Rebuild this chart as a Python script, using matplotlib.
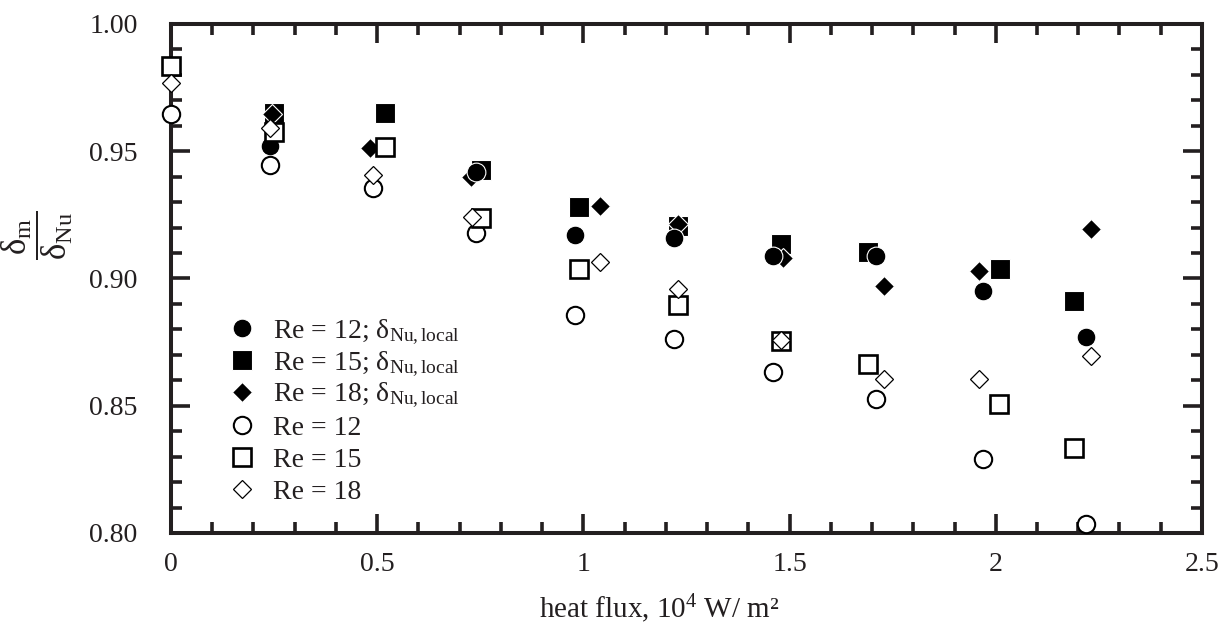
import matplotlib
matplotlib.use("Agg")
import matplotlib.pyplot as plt
from matplotlib.ticker import MultipleLocator, FixedLocator, FixedFormatter

plt.rcParams["font.family"] = ["Liberation Serif", "DejaVu Serif"]
plt.rcParams["mathtext.fontset"] = "custom"
plt.rcParams["mathtext.rm"] = "Liberation Serif"
plt.rcParams["mathtext.it"] = "Liberation Serif:italic"
plt.rcParams["mathtext.default"] = "regular"

INK = "#231f20"
FS = 20

# heat flux (10^4 W/m^2) and delta_m / delta_Nu for each series
x_re12_local = [0.24, 0.74, 0.98, 1.22, 1.46, 1.71, 1.97, 2.22]
y_re12_local = [0.952, 0.942, 0.917, 0.916, 0.909, 0.909, 0.895, 0.877]

x_re15_local = [0.25, 0.52, 0.752, 0.99, 1.23, 1.48, 1.69, 2.01, 2.19]
y_re15_local = [0.965, 0.965, 0.9426, 0.928, 0.9206, 0.9134, 0.9103, 0.9036, 0.8912]

x_re18_local = [0.244, 0.483, 0.727, 1.04, 1.23, 1.485, 1.73, 1.959, 2.23]
y_re18_local = [0.9645, 0.9512, 0.940, 0.9285, 0.9214, 0.908, 0.897, 0.9031, 0.9194]

x_re12 = [0.0, 0.24, 0.49, 0.74, 0.98, 1.22, 1.459, 1.709, 1.968, 2.219]
y_re12 = [0.9645, 0.9446, 0.9354, 0.918, 0.8857, 0.8762, 0.8634, 0.8528, 0.8292, 0.8035]

x_re15 = [0.0, 0.25, 0.52, 0.752, 0.99, 1.23, 1.48, 1.69, 2.009, 2.19]
y_re15 = [0.9835, 0.9577, 0.9517, 0.9237, 0.9036, 0.8896, 0.8756, 0.8663, 0.8507, 0.8335]

x_re18 = [0.0, 0.24, 0.49, 0.73, 1.04, 1.23, 1.48, 1.73, 1.959, 2.23]
y_re18 = [0.9767, 0.959, 0.9407, 0.9243, 0.9066, 0.8958, 0.8758, 0.8604, 0.8606, 0.8696]

labels = [
    r"Re = 12; $\delta_{\rm Nu,local}$",
    r"Re = 15; $\delta_{\rm Nu,local}$",
    r"Re = 18; $\delta_{\rm Nu,local}$",
    "Re = 12",
    "Re = 15",
    "Re = 18",
]

x_ticks = [0, 0.5, 1, 1.5, 2, 2.5]
x_tick_labels = ["0", "0.5", "1", "1.5", "2", "2.5"]
y_ticks = [0.80, 0.85, 0.90, 0.95, 1.00]
y_tick_labels = ["0.80", "0.85", "0.90", "0.95", "1.00"]

fig = plt.figure(figsize=(12.19, 6.26), dpi=100)
ax = fig.add_axes([0.1403, 0.1486, 0.8457, 0.8131])

filled = dict(color="black", linestyle="none", markeredgecolor="white",
              markeredgewidth=0.8, clip_on=False)
hollow = dict(color="black", linestyle="none", markerfacecolor="white",
              markeredgecolor="black", clip_on=False)

h1, = ax.plot(x_re12_local, y_re12_local, marker="o", markersize=13.5,
              label=labels[0], zorder=5, **filled)
h2, = ax.plot(x_re15_local, y_re15_local, marker="s", markersize=14,
              label=labels[1], zorder=3, **filled)
h3, = ax.plot(x_re18_local, y_re18_local, marker="D", markersize=10.5,
              label=labels[2], zorder=4, **filled)
h4, = ax.plot(x_re12, y_re12, marker="o", markersize=12.5, markeredgewidth=1.5,
              label=labels[3], zorder=6, **hollow)
h5, = ax.plot(x_re15, y_re15, marker="s", markersize=13.5, markeredgewidth=1.9,
              label=labels[4], zorder=7, **hollow)
h6, = ax.plot(x_re18, y_re18, marker="D", markersize=9.5, markeredgewidth=0.9,
              label=labels[5], zorder=8, **hollow)

ax.set_xlim(0, 2.5)
ax.set_ylim(0.80, 1.00)

ax.xaxis.set_major_locator(FixedLocator(x_ticks))
ax.xaxis.set_major_formatter(FixedFormatter(x_tick_labels))
ax.xaxis.set_minor_locator(MultipleLocator(0.1))
ax.yaxis.set_major_locator(FixedLocator(y_ticks))
ax.yaxis.set_major_formatter(FixedFormatter(y_tick_labels))
ax.yaxis.set_minor_locator(MultipleLocator(0.01))

for side in ax.spines.values():
    side.set_linewidth(2.9)
    side.set_color(INK)

ax.tick_params(which="both", direction="in", top=True, right=True,
               color=INK, width=2.6, labelcolor=INK, labelsize=FS)
ax.tick_params(which="major", length=14)
ax.tick_params(which="minor", length=8)
ax.tick_params(axis="y", which="major", pad=24)
ax.tick_params(axis="x", which="major", pad=14)

ax.set_xlabel(r"heat flux, 10$^{4}$ W/ m²", fontsize=21, color=INK)
ax.xaxis.set_label_coords(0.474, -0.117)
ax.set_ylabel(r"$\dfrac{\delta_{\rm m}}{\delta_{\rm Nu}}$", fontsize=25,
              color=INK, rotation=90)
ax.yaxis.set_label_coords(-0.093, 0.585)

# two stacked legend blocks so every row keeps the same pitch
legend_style = dict(loc="center left", frameon=False, numpoints=1,
                    handlelength=1.0, handletextpad=0.6, borderpad=0,
                    fontsize=FS)
leg_local = ax.legend(handles=[h1, h2, h3], bbox_to_anchor=(0.042, 0.332),
                      labelspacing=0.09, **legend_style)
ax.add_artist(leg_local)
leg_plain = ax.legend(handles=[h4, h5, h6], bbox_to_anchor=(0.042, 0.143),
                      labelspacing=0.24, **legend_style)
for lg in (leg_local, leg_plain):
    for t in lg.get_texts():
        t.set_color(INK)

fig.savefig("out.png", dpi=100)
